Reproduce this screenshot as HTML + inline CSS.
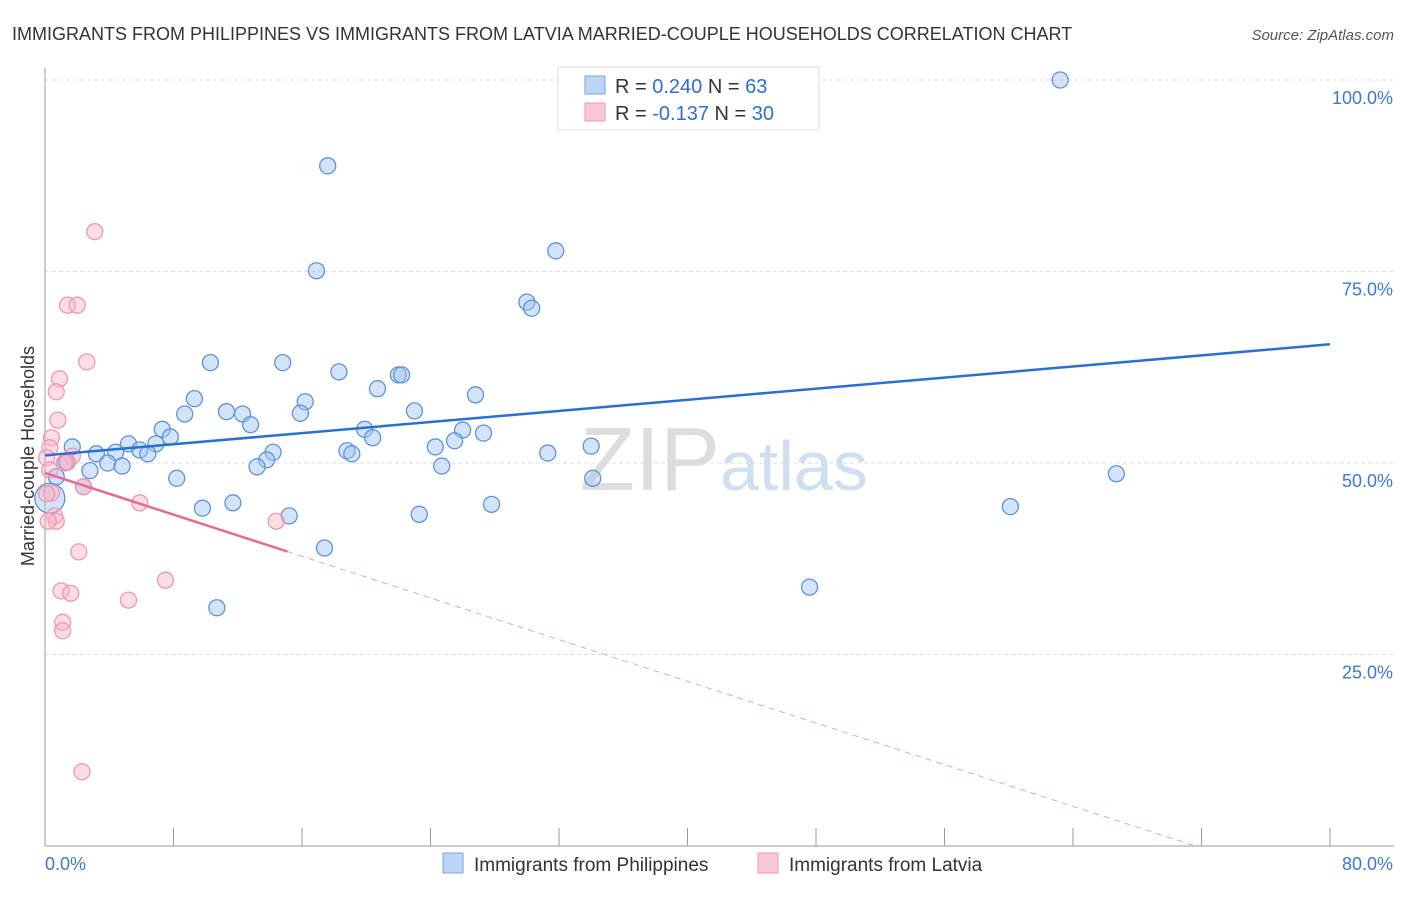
<!DOCTYPE html>
<html><head><meta charset="utf-8"><style>
body{margin:0;background:#fff;font-family:"Liberation Sans",sans-serif}
svg text{font-family:"Liberation Sans",sans-serif}
</style></head><body>
<svg width="1406" height="892" id="c">
<text x="12" y="40" font-size="18" fill="#333">IMMIGRANTS FROM PHILIPPINES VS IMMIGRANTS FROM LATVIA MARRIED-COUPLE HOUSEHOLDS CORRELATION CHART</text>
<text x="1394" y="40" font-size="15" fill="#555" font-style="italic" text-anchor="end">Source: ZipAtlas.com</text>
<text x="720" y="490" font-size="90" fill="#ddd" text-anchor="end" font-family="Liberation Serif">ZIP</text>
<text x="720" y="490" font-size="70" fill="#cfdff2">atlas</text>
<text transform="translate(34,456) rotate(-90)" font-size="18" fill="#333" text-anchor="middle">Married-couple Households</text>
<g id="grid"></g><g id="pts"></g><g id="lines"></g>
<g>
<rect x="558" y="67" width="261" height="63" fill="#fff" stroke="#ddd"/>
<rect x="585" y="76" width="20" height="18" fill="#bcd4f5" stroke="#7aa6e0"/>
<rect x="585" y="103" width="20" height="18" fill="#f9c7d5" stroke="#ee9ab4"/>
<text x="615" y="93" font-size="20" fill="#333">R = <tspan fill="#2c6fd0">0.240</tspan>   N = <tspan fill="#2c6fd0">63</tspan></text>
<text x="615" y="120" font-size="20" fill="#333">R = <tspan fill="#2c6fd0">-0.137</tspan>   N = <tspan fill="#2c6fd0">30</tspan></text>
</g>
<g>
<rect x="443" y="853" width="20" height="20" fill="#bcd4f5" stroke="#7aa6e0"/>
<text x="474" y="871" font-size="19" fill="#333">Immigrants from Philippines</text>
<rect x="758" y="853" width="20" height="20" fill="#f9c7d5" stroke="#ee9ab4"/>
<text x="789" y="871" font-size="19" fill="#333">Immigrants from Latvia</text>
</g>
</svg>
<script>
const blueX=[63.2,17.6,31.8,16.9,30.0,30.3,10.3,14.8,18.3,22.0,22.2,20.7,26.8,9.3,16.2,8.7,11.3,12.3,15.9,23.0,12.8,7.3,19.9,26.0,27.3,7.8,20.4,5.2,6.9,25.5,1.7,3.2,4.4,5.9,6.4,18.8,19.1,24.3,34.0,31.3,14.2,13.8,3.9,4.8,13.2,24.7,1.3,2.8,0.7,8.2,34.1,66.7,2.4,0.3,11.7,9.8,27.8,60.1,15.2,23.3,17.4,47.6,10.7];
const blueY=[100,88.8,77.7,75.1,71.0,70.2,63.1,63.1,61.9,61.5,61.5,59.7,58.9,58.4,58.0,56.4,56.7,56.4,56.5,56.8,55.0,54.4,54.4,54.3,53.9,53.4,53.3,52.5,52.5,52.9,52.1,51.2,51.4,51.7,51.2,51.6,51.2,52.1,52.2,51.3,51.4,50.4,50.0,49.6,49.5,49.6,50.1,49.0,48.2,48.0,48.0,48.6,46.9,45.4,44.8,44.1,44.6,44.3,43.1,43.3,38.9,33.8,31.1];
const pinkX=[3.1,1.4,2.0,2.6,0.9,0.7,0.8,0.4,0.3,1.7,1.2,0.1,0.3,2.4,0.4,5.9,0.6,0.7,0.2,14.4,2.1,1.0,1.6,5.2,7.5,1.1,1.1,2.3,1.4,0.1];
const pinkY=[80.2,70.6,70.6,63.2,61.0,59.3,55.6,53.3,52.0,50.9,50.0,50.7,49.1,46.9,46.1,44.8,43.1,42.4,42.4,42.4,38.4,33.3,33.0,32.1,34.7,29.2,28.1,9.7,50.1,46.0];
const blueTrend=[51.0,65.5];
const pinkTrend=[48.7,-0.68];
const yTicks=[25,50,75,100];
const xTickVals=[0,8,16,24,32,40,48,56,64,72,80];
const ns="http://www.w3.org/2000/svg";
const sx=v=>45+v*1285/80, sy=v=>846-v*7.66;
function mk(t,a,p){const e=document.createElementNS(ns,t);for(const k in a)e.setAttribute(k,a[k]);p.appendChild(e);return e;}
const svg=document.getElementById('c'),g=document.getElementById('grid'),P=document.getElementById('pts'),L=document.getElementById('lines');
yTicks.forEach(t=>{const l=mk('line',{x1:45,x2:1394,y1:sy(t),y2:sy(t),stroke:'#ddd','stroke-dasharray':'4,3'},g);


const tx=mk('text',{x:1393,y:sy(t)+24,'font-size':18,fill:'#3a78d4','text-anchor':'end'},g);tx.textContent=t.toFixed(1)+'%';

});
const ax=mk('line',{x1:45,x2:1394,y1:846,y2:846,stroke:'#999'},g);


const ay=mk('line',{x1:45,x2:45,y1:68,y2:846,stroke:'#999'},g);


xTickVals.forEach(t=>{const l=mk('line',{x1:sx(t),x2:sx(t),y1:828,y2:846,stroke:'#999'},g);

});
[[0,'0.0%',45,'start'],[80,'80.0%',1393,'end']].forEach(a=>{const t=mk('text',{x:a[2],y:870,'font-size':18,fill:'#3a78d4','text-anchor':a[3]},g);t.textContent=a[1];

});
blueX.forEach((x,i)=>{const c=mk('circle',{cx:sx(x),cy:sy(blueY[i]),r:(i==53?15:8),fill:'rgba(160,195,240,0.45)',stroke:'#5b93dc','stroke-width':1.3},P);

});
pinkX.forEach((x,i)=>{const c=mk('circle',{cx:sx(x),cy:sy(pinkY[i]),r:8,fill:'rgba(248,180,200,0.45)',stroke:'#ee97b2','stroke-width':1.3},P);

});
const bl=mk('line',{x1:sx(0),y1:sy(blueTrend[0]),x2:sx(80),y2:sy(blueTrend[1]),stroke:'#2a6fd4','stroke-width':2.5},L);


const pe=15.1,pz=-pinkTrend[0]/pinkTrend[1];
const pl=mk('line',{x1:sx(0),y1:sy(pinkTrend[0]),x2:sx(pe),y2:sy(pinkTrend[0]+pinkTrend[1]*pe),stroke:'#e66a92','stroke-width':2.5},L);


const pd=mk('line',{x1:sx(pe),y1:sy(pinkTrend[0]+pinkTrend[1]*pe),x2:sx(pz),y2:sy(0),stroke:'#eea0b8','stroke-width':1,'stroke-dasharray':'6,5'},L);


</script>
</body></html>
